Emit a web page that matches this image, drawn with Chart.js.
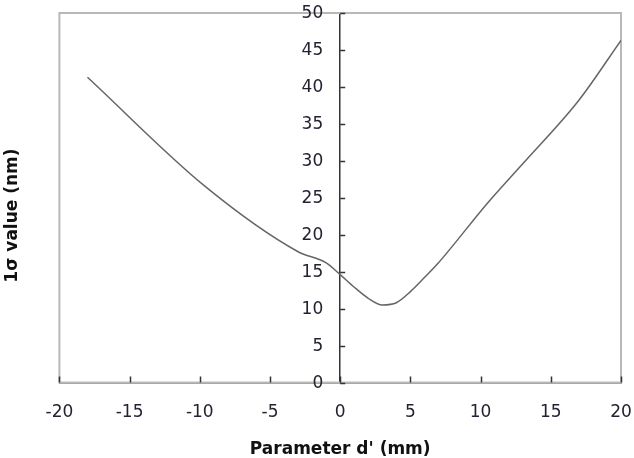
<!DOCTYPE html>
<html>
<head>
<meta charset="utf-8">
<script src="https://cdn.jsdelivr.net/npm/chart.js@4/dist/chart.umd.min.js"></script>
<style>
  html, body { margin: 0; padding: 0; background: #fff; }
  canvas { display: block; }
</style>
</head>
<body>
<canvas id="c" width="634" height="458"></canvas>
<script>
// Data
const paramD = [-18, -9.6, -3, -1, 0, 1, 2, 3, 4, 5, 6, 7, 10.5, 13, 17, 20];
const sigmaNm = [41.3, 26.5, 17.7, 16.2, 14.6, 12.9, 11.4, 10.5, 10.8, 12.3, 14.2, 16.2, 24.3, 29.6, 38.2, 46.3];
const xTicks = [-20, -15, -10, -5, 0, 5, 10, 15, 20];
const yTicks = [0, 5, 10, 15, 20, 25, 30, 35, 40, 45, 50];
const xTitle = "Parameter d' (mm)";
const yTitle = "1\u03c3 value (nm)";

const points = paramD.map((x, i) => ({ x: x, y: sigmaNm[i] }));

const frameAndTicks = {
  id: 'frameAndTicks',
  beforeDatasetsDraw(chart) {
    const { ctx, chartArea: a } = chart;
    ctx.save();
    ctx.strokeStyle = '#b8b8b8';
    ctx.lineWidth = 2;
    ctx.strokeRect(a.left, a.top, a.right - a.left, a.bottom - a.top);
    ctx.restore();
  },
  afterDraw(chart) {
    const { ctx, chartArea: a } = chart;
    const xs = chart.scales.x, ys = chart.scales.y;
    const x0 = xs.getPixelForValue(0);
    ctx.save();
    ctx.strokeStyle = '#333';
    ctx.lineWidth = 1.5;
    ctx.beginPath();
    xTicks.forEach(v => {
      const px = Math.round(xs.getPixelForValue(v)) + 0.5;
      ctx.moveTo(px, a.bottom);
      ctx.lineTo(px, a.bottom - 6);
    });
    yTicks.forEach(v => {
      const py = Math.round(ys.getPixelForValue(v)) + 0.5;
      ctx.moveTo(x0, py);
      ctx.lineTo(x0 + 5, py);
    });
    ctx.stroke();
    // y tick labels, right-aligned left of the y axis at x = 0
    ctx.fillStyle = '#222233';
    ctx.font = '17px "DejaVu Sans"';
    ctx.textAlign = 'right';
    ctx.textBaseline = 'middle';
    yTicks.forEach(v => {
      ctx.fillText(String(v), x0 - 17, ys.getPixelForValue(v) + 1);
    });
    ctx.restore();
  }
};

new Chart(document.getElementById('c'), {
  type: 'scatter',
  data: {
    datasets: [{
      data: points,
      showLine: true,
      borderColor: '#666',
      borderWidth: 1.5,
      pointRadius: 0,
      fill: false,
      cubicInterpolationMode: 'monotone',
      yAxisID: 'y'
    }]
  },
  options: {
    responsive: false,
    devicePixelRatio: 1,
    animation: false,
    layout: { autoPadding: false, padding: { top: 13, right: 13, bottom: 0, left: 0 } },
    plugins: { legend: { display: false }, tooltip: { enabled: false } },
    scales: {
      x: {
        type: 'linear',
        position: 'bottom',
        min: -20, max: 20,
        afterBuildTicks: s => { s.ticks = xTicks.map(v => ({ value: v })); },
        grid: { display: false, drawTicks: false },
        border: { display: true, color: '#333', width: 1.5 },
        ticks: {
          padding: 0,
          color: '#222233',
          font: { family: 'DejaVu Sans', size: 17, lineHeight: '60px' },
          maxRotation: 0
        },
        title: {
          display: true,
          text: xTitle,
          color: '#111',
          font: { family: 'DejaVu Sans', size: 17, weight: 'bold', lineHeight: 0.85 },
          padding: { top: 0, bottom: 1 }
        }
      },
      y: {
        type: 'linear',
        position: { x: 0 },
        min: 0, max: 50,
        afterBuildTicks: s => { s.ticks = yTicks.map(v => ({ value: v })); },
        grid: { display: false, drawTicks: false },
        border: { display: true, color: '#333', width: 1.5 },
        ticks: { display: false }
      },
      yt: {
        type: 'linear',
        position: 'left',
        min: 0, max: 50,
        grid: { display: false, drawTicks: false },
        border: { display: false },
        ticks: { display: false },
        title: {
          display: true,
          text: yTitle + '      ',
          color: '#111',
          font: { family: 'DejaVu Sans', size: 17, weight: 'bold' },
          padding: { top: 2, bottom: 37 }
        }
      }
    }
  },
  plugins: [frameAndTicks]
});
</script>
</body>
</html>
